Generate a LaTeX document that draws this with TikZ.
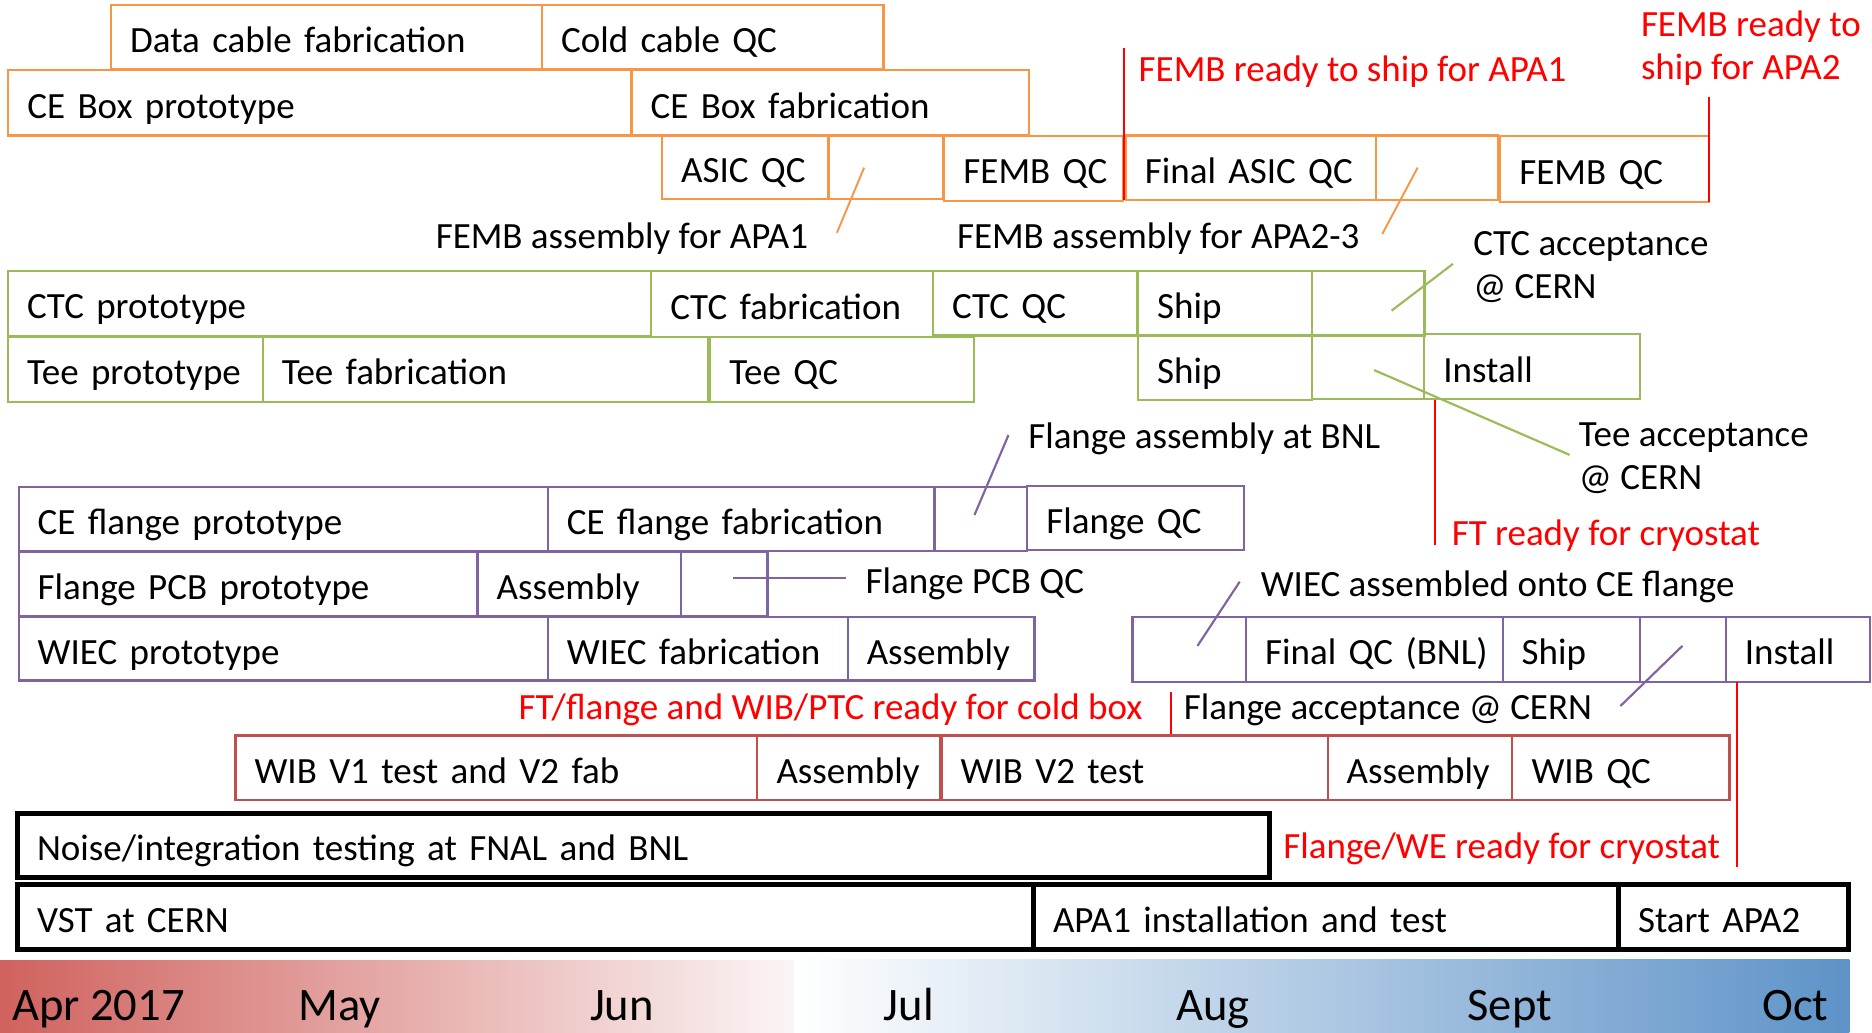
\documentclass[tikz,border=0pt]{standalone}
\usepackage{fontspec}
\setmainfont{Carlito}
\definecolor{ocol}{HTML}{F79646}
\definecolor{gcol}{HTML}{9BBB59}
\definecolor{pcol}{HTML}{8064A2}
\definecolor{rcol}{HTML}{C0504D}
\definecolor{mred}{HTML}{FF0000}
\definecolor{gradR}{HTML}{D0625E}
\definecolor{gradRw}{HTML}{FBF5F5}
\definecolor{gradB}{HTML}{5E93C8}
\hbadness=10000 \hfuzz=200pt
\newcommand{\tbox}[7]{%
  \pgfmathsetmacro{\bw}{#5-#3}%
  \pgfmathsetmacro{\bh}{#6-#4}%
  \pgfmathsetmacro{\tw}{#5-#3-32}%
  \node[#2, anchor=north west, minimum width=\bw pt, minimum height=\bh pt,
        text width=\tw pt] (#1) at (#3,#4) {\mbox{#7}};}
\begin{document}
\begin{tikzpicture}[x=1pt,y=-1pt,
  font=\fontsize{31}{36}\selectfont,
  task/.style={draw, outer sep=0pt, inner xsep=16pt, inner ysep=0pt,
     align=left, text height=30pt, text depth=4pt},
  obox/.style={task, draw=ocol, line width=1.8pt},
  gbox/.style={task, draw=gcol, line width=1.8pt},
  pbox/.style={task, draw=pcol, line width=1.8pt},
  rbox/.style={task, draw=rcol, line width=1.8pt},
  kbox/.style={task, draw=black, line width=4.2pt},
  lbl/.style={inner sep=0pt, outer sep=0pt, anchor=base west, align=left},
  mlbl/.style={lbl, text=mred},
  month/.style={inner sep=0pt, anchor=base west, font=\fontsize{39}{44}\selectfont},
  olead/.style={draw=ocol, line width=1.6pt},
  glead/.style={draw=gcol, line width=1.8pt},
  plead/.style={draw=pcol, line width=1.8pt},
  mline/.style={draw=mred, line width=1.6pt}]
\useasboundingbox (0,0) rectangle (1568,865);

% timeline bar
\shade[left color=gradR, right color=gradRw] (0,804.7) rectangle (665,865);
\shade[left color=white, right color=gradB] (665,803.5) rectangle (1549,865);
\node[month] (m1) at (10,854.4) {Apr 2017};
\node[month] (m2) at (250,854.4) {May};
\node[month] (m3) at (494,854.4) {Jun};
\node[month] (m4) at (740,854.4) {Jul};
\node[month] (m5) at (985,854.4) {Aug};
\node[month] (m6) at (1229,854.4) {Sept};
\node[month] (m7) at (1476,854.4) {Oct};

% orange rows
\tbox{dcf}{obox}{93}{4}{454}{58}{Data cable fabrication}
\tbox{ccq}{obox}{454}{4}{740}{58}{Cold cable QC}
\tbox{cbp}{obox}{7}{58.6}{529}{113.5}{CE Box prototype}
\tbox{cbf}{obox}{529}{58.6}{862}{113.5}{CE Box fabrication}
\tbox{asq}{obox}{554.5}{113.5}{694}{167}{ASIC QC}
\tbox{fa1}{obox}{694}{113.5}{790}{167}{}
\tbox{fq1}{obox}{791}{114}{940.7}{168}{FEMB QC}
\tbox{faq}{obox}{943}{113.5}{1152.6}{167.5}{Final ASIC QC}
\tbox{fa2}{obox}{1152.6}{113.5}{1255}{167.5}{}
\tbox{fq2}{obox}{1256.6}{114}{1431.5}{169}{FEMB QC}

% green rows
\tbox{ctp}{gbox}{6.7}{226.7}{545.5}{281.4}{CTC prototype}
\tbox{ctf}{gbox}{545.5}{226.7}{781.6}{282.5}{CTC fabrication}
\tbox{ctq}{gbox}{781.6}{226.7}{952.2}{281}{CTC QC}
\tbox{cts}{gbox}{953.2}{226.7}{1099}{281}{Ship}
\tbox{cte}{gbox}{1099}{226.7}{1193.2}{281}{}
\tbox{tep}{gbox}{6.7}{282.5}{220}{336.4}{Tee prototype}
\tbox{tef}{gbox}{220}{282.5}{592.8}{336.4}{Tee fabrication}
\tbox{teq}{gbox}{595}{282}{816}{336.4}{Tee QC}
\tbox{tes}{gbox}{953.2}{281}{1099}{335}{Ship}
\tbox{tee}{gbox}{1099}{281}{1193}{334}{}
\tbox{tei}{gbox}{1193}{280}{1373.3}{334}{Install}

% purple rows
\tbox{cfp}{pbox}{15.6}{408}{458.8}{461.3}{CE flange prototype}
\tbox{cff}{pbox}{458.8}{408}{782.7}{461.3}{CE flange fabrication}
\tbox{cfe}{pbox}{782.7}{408}{860.5}{461.3}{}
\tbox{flq}{pbox}{860.5}{407}{1042}{461}{Flange QC}
\tbox{fpp}{pbox}{15.6}{462}{400}{516}{Flange PCB prototype}
\tbox{fpa}{pbox}{400}{462}{570.5}{516}{Assembly}
\tbox{fpe}{pbox}{570.5}{462}{642.8}{516}{}
\tbox{wip}{pbox}{15.6}{516.5}{458.8}{570}{WIEC prototype}
\tbox{wif}{pbox}{458.8}{516.5}{710}{570}{WIEC fabrication}
\tbox{wia}{pbox}{710}{516.5}{866.5}{570}{Assembly}
\tbox{wae}{pbox}{948.6}{516.5}{1043.7}{571}{}
\tbox{wfq}{pbox}{1043.7}{516.5}{1258.6}{571}{Final QC (BNL)}
\tbox{wsh}{pbox}{1258.6}{516.5}{1373.3}{571}{Ship}
\tbox{wse}{pbox}{1373.3}{516.5}{1445.5}{571}{}
\tbox{win}{pbox}{1445.5}{516.5}{1566}{571}{Install}

% red (WIB) row
\tbox{wb1}{rbox}{197.2}{616}{634.4}{670}{WIB V1 test and V2 fab}
\tbox{wb2}{rbox}{634.4}{616}{787.7}{670}{Assembly}
\tbox{wb3}{rbox}{788.6}{616}{1112}{670}{WIB V2 test}
\tbox{wb4}{rbox}{1112}{616}{1266.8}{670}{Assembly}
\tbox{wb5}{rbox}{1266.8}{616}{1448.6}{670}{WIB QC}

% black rows
\tbox{noi}{kbox}{15}{681}{1063}{735}{Noise/integration testing at FNAL and BNL}
\tbox{vst}{kbox}{15}{741}{866}{795}{VST at CERN}
\tbox{apa}{kbox}{866}{741}{1356}{795}{APA1 installation and test}
\tbox{sta}{kbox}{1356}{741}{1548}{795}{Start APA2}

% annotation labels
\node[lbl] (t1) at (365,208) {FEMB assembly for APA1};
\node[lbl] (t2) at (801.6,208) {FEMB assembly for APA2-3};
\node[lbl] (t3) at (1234,250) {CTC acceptance\\@ CERN};
\node[lbl] (t4) at (861.3,375.5) {Flange assembly at BNL};
\node[lbl] (t5) at (1322.5,410) {Tee acceptance\\@ CERN};
\node[lbl] (t6) at (725,497) {Flange PCB QC};
\node[lbl] (t7) at (1056,500) {WIEC assembled onto CE flange};
\node[lbl] (t8) at (991.7,603) {Flange acceptance @ CERN};
% milestone labels
\node[mlbl] (r1) at (953.8,68.4) {FEMB ready to ship for APA1};
\node[mlbl] (r2) at (1374.5,66.4) {FEMB ready to\\ship for APA2};
\node[mlbl] (r3) at (1216,456.5) {FT ready for cryostat};
\node[mlbl] (r4) at (434.4,603) {FT/flange and WIB/PTC ready for cold box};
\node[mlbl] (r5) at (1075,719) {Flange/WE ready for cryostat};

% leader lines
\coordinate (a1) at (701,195);     \coordinate (b1) at (723.8,140.4);
\coordinate (a2) at (1157.8,196);  \coordinate (b2) at (1187.4,140.4);
\coordinate (a3) at (1217,221);    \coordinate (b3) at (1165.6,260.2);
\coordinate (a4) at (1314.7,381);  \coordinate (b4) at (1151,310);
\coordinate (a5) at (844.7,364.4); \coordinate (b5) at (816.2,431.4);
\coordinate (a6) at (708.3,484.4); \coordinate (b6) at (613.9,484.4);
\coordinate (a7) at (1038.4,487.2);\coordinate (b7) at (1003,541);
\coordinate (a8) at (1357.2,591.4);\coordinate (b8) at (1409.2,541);
\draw[olead] (a1) -- (b1);
\draw[olead] (a2) -- (b2);
\draw[glead] (a3) -- (b3);
\draw[glead] (a4) -- (b4);
\draw[plead] (a5) -- (b5);
\draw[plead] (a6) -- (b6);
\draw[plead] (a7) -- (b7);
\draw[plead] (a8) -- (b8);

% milestone lines
\coordinate (m1a) at (941.8,40.5);  \coordinate (m1b) at (941.8,167.5);
\coordinate (m2a) at (1431.5,81.5); \coordinate (m2b) at (1431.5,169);
\coordinate (m3a) at (1202,335);    \coordinate (m3b) at (1202,456.5);
\coordinate (m4a) at (980.8,579.4); \coordinate (m4b) at (980.8,615);
\coordinate (m5a) at (1455,571);    \coordinate (m5b) at (1455,726);
\draw[mline] (m1a) -- (m1b);
\draw[mline] (m2a) -- (m2b);
\draw[mline] (m3a) -- (m3b);
\draw[mline] (m4a) -- (m4b);
\draw[mline] (m5a) -- (m5b);
\end{tikzpicture}
\end{document}
